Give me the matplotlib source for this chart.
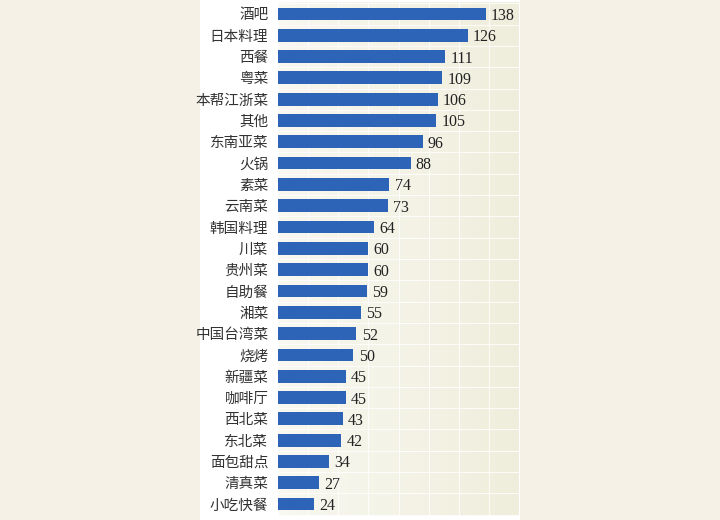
import matplotlib
matplotlib.use("Agg")
import matplotlib.pyplot as plt
import numpy as np
from matplotlib.colors import LinearSegmentedColormap

categories = ["酒吧", "日本料理", "西餐", "粤菜", "本帮江浙菜", "其他", "东南亚菜", "火锅",
              "素菜", "云南菜", "韩国料理", "川菜", "贵州菜", "自助餐", "湘菜", "中国台湾菜",
              "烧烤", "新疆菜", "咖啡厅", "西北菜", "东北菜", "面包甜点", "清真菜", "小吃快餐"]
values = [138, 126, 111, 109, 106, 105, 96, 88, 74, 73, 64, 60, 60, 59, 55, 52,
          50, 45, 45, 43, 42, 34, 27, 24]

fig = plt.figure(figsize=(7.2, 5.2), dpi=100)
fig.patch.set_facecolor("#f5f1e6")
# white panel
fig.add_artist(plt.Rectangle((200/720, 0), 320/720, 1, transform=fig.transFigure,
                             facecolor="white", edgecolor="none", zorder=0))

ax = fig.add_axes([278/720, 4/520, 241/720, 514/520])
ax.set_facecolor("none")
n = len(categories)
y = np.arange(n)
xmax = 160
ylim = (n - 1 + 0.56, -0.56)

cmap = LinearSegmentedColormap.from_list("bg", ["#f9f8f1", "#efeedc"])
grad = np.linspace(0, 1, 256).reshape(1, -1)
ax.imshow(grad, cmap=cmap, aspect="auto", extent=(0, xmax, ylim[0], ylim[1]), zorder=0)

ax.barh(y, values, height=0.6, color="#2e64b8", zorder=3)
for yi, v in zip(y, values):
    ax.text(v + 3.5, yi, str(v), va="center_baseline", ha="left", fontsize=11.5,
            family=["Liberation Serif", "DejaVu Serif"], color="#222222", zorder=4)

ax.set_xlim(0, xmax)
ax.set_ylim(*ylim)
ax.set_xticks(np.arange(0, xmax + 1, 20))
ax.set_yticks(y)
ax.set_yticklabels(categories, family=["Noto Sans CJK SC", "DejaVu Sans"], fontsize=10.5,
                   color="#333333")
ax.set_yticks(np.arange(-0.5, n, 1), minor=True)
ax.tick_params(axis="both", which="both", length=0)
ax.tick_params(axis="y", pad=7)
ax.set_xticklabels([])
ax.grid(axis="x", which="major", color="white", linewidth=0.8, alpha=0.8, zorder=1)
ax.grid(axis="y", which="minor", color="white", linewidth=0.8, alpha=0.8, zorder=1)
ax.set_axisbelow(True)
for s in ax.spines.values():
    s.set_visible(False)

fig.savefig("out.png", dpi=100, facecolor=fig.get_facecolor())
